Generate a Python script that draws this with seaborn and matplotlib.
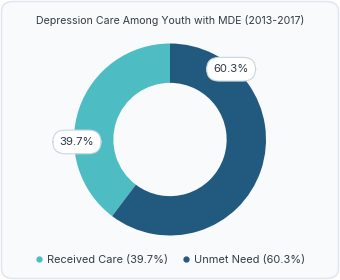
import numpy as np
import seaborn as sns
import matplotlib.pyplot as plt
from matplotlib.patches import FancyBboxPatch
from matplotlib.lines import Line2D

# Data
categories = ['Received Care', 'Unmet Need']
shares = [39.7, 60.3]
colors = ['#4dbdc3', '#225a7f']
# where the value bubbles sit (degrees, from the picture)
label_angles = [181.5, 49.0]

sns.set_theme(style='white')
plt.rcParams['font.family'] = ['Inter', 'DejaVu Sans']

fig = plt.figure(figsize=(3.4, 2.8), dpi=100)
fig.patch.set_facecolor('white')

# card background
card = FancyBboxPatch((1.5 / 340, 1.5 / 280), 337 / 340, 277 / 280,
                      boxstyle='round,pad=0,rounding_size=0.035',
                      transform=fig.transFigure, facecolor='#f8fafc',
                      edgecolor='#dfe5ec', linewidth=1.0, zorder=-5)
fig.patches.append(card)

ax = fig.add_axes([74 / 340, 44.5 / 280, 192 / 340, 192 / 280])
ax.set_zorder(2)
ax.set_facecolor('none')
ax.pie(shares, colors=colors, startangle=90, counterclock=True,
       radius=1.0, wedgeprops=dict(width=0.41, edgecolor='none'))
ax.set_xlim(-1, 1)
ax.set_ylim(-1, 1)
ax.set_aspect('equal')
ax.axis('off')

for val, ang in zip(shares, label_angles):
    r = 0.97
    x = r * np.cos(np.radians(ang))
    y = r * np.sin(np.radians(ang))
    ax.text(x, y, f'{val}%', ha='center', va='center', fontsize=8.2,
            color='#2f3a45',
            bbox=dict(boxstyle='round,pad=0.6,rounding_size=1.1',
                      facecolor='white', edgecolor='#c9d6e0', linewidth=0.8))

fig.text(0.5, 1 - 20 / 280, 'Depression Care Among Youth with MDE (2013-2017)',
         ha='center', va='center', fontsize=7.6, color='#333b44')

handles = [Line2D([0], [0], marker='o', linestyle='none', markersize=3.5,
                  markerfacecolor=c, markeredgecolor=c) for c in colors]
labels = [f'{c} ({v}%)' for c, v in zip(categories, shares)]
fig.legend(handles, labels, loc='center', bbox_to_anchor=(0.5, 1 - 260 / 280),
           ncol=2, frameon=False, fontsize=7.9, handletextpad=0.3,
           handlelength=0.8, columnspacing=1.3, labelcolor='#333b44')

fig.savefig('out.png', dpi=100, facecolor='white')
